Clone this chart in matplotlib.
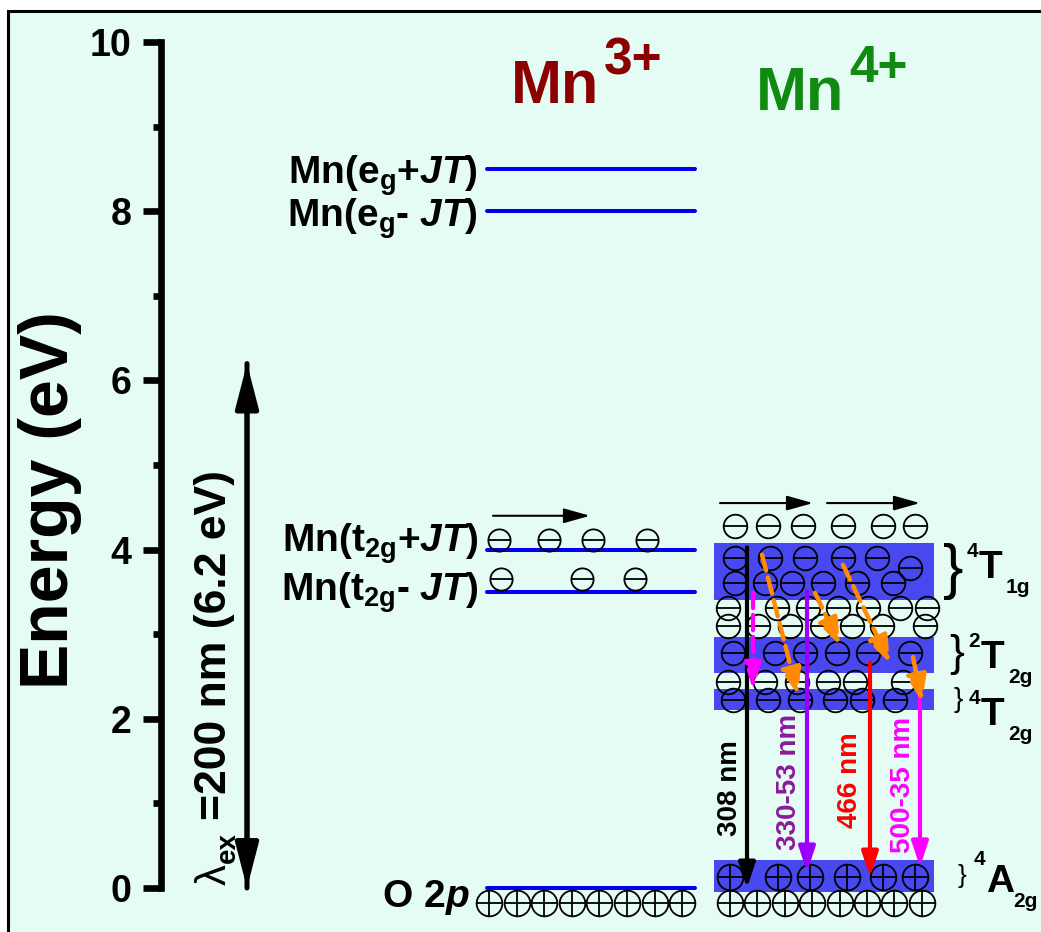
import matplotlib
matplotlib.use("Agg")
import matplotlib.pyplot as plt
from matplotlib.patches import Rectangle, FancyArrowPatch

plt.rcParams['font.family'] = ['Liberation Sans', 'DejaVu Sans']
plt.rcParams['font.weight'] = 'bold'
plt.rcParams['mathtext.fontset'] = 'custom'
plt.rcParams['mathtext.rm'] = 'Liberation Sans:bold'
plt.rcParams['mathtext.it'] = 'Liberation Sans:bold:italic'
plt.rcParams['mathtext.bf'] = 'Liberation Sans:bold'

HC = 1239.84  # eV * nm

# Mn3+ levels (eV)
mn3_energy = [8.5, 8.0, 4.0, 3.5]
mn3_names = [r'$\mathrm{Mn(e_g{+}}\mathit{JT}\mathrm{)}$',
             r'$\mathrm{Mn(e_g}\text{- }\mathit{JT}\mathrm{)}$',
             r'$\mathrm{Mn(t_{2g}{+}}\mathit{JT}\mathrm{)}$',
             r'$\mathrm{Mn(t_{2g}}\text{- }\mathit{JT}\mathrm{)}$']
o2p_energy = 0.0

# Mn4+ bands (eV)
band_lo = [3.40, 2.54, 2.10, -0.05]
band_hi = [4.08, 2.97, 2.35, 0.33]
band_sup = ['4', '2', '4', '4']
band_term = ['T', 'T', 'T', 'A']
band_sub = ['1g', '2g', '2g', '2g']

# emission transitions to 4A2g
emis_nm = [308, 353, 466, 535]
emis_text = ['308 nm', '330-53 nm', '466 nm', '500-35 nm']
emis_end = [0.0, 0.19, 0.13, 0.25]
emis_color = ['black', '#9b00ff', '#ff0000', '#ff00ff']
emis_tcolor = ['black', '#8b1a9b', '#ff0000', '#ff00ff']

ex_nm = 200

# electron / hole rows: (energy, x positions)
mn3_minus = [(4.11, [499, 549, 593, 647]),
             (3.65, [501, 582, 635])]
o2p_plus = (-0.18, [489 + 27.6 * i for i in range(8)])
mn4_minus = [(4.28, [735, 768, 803, 843, 883, 915]),
             (3.90, [735, 770, 805, 843, 877]),
             (3.78, [910]),
             (3.61, [735, 765, 792, 823, 857, 893]),
             (3.31, [728, 777, 808, 838, 868, 900, 927]),
             (3.10, [728, 758, 790, 822, 852, 882, 925]),
             (2.78, [733, 775, 805, 837, 868, 910]),
             (2.43, [728, 765, 797, 828, 855, 903]),
             (2.22, [733, 768, 800, 835, 862, 895])]
mn4_plus = [(0.13, [730, 778, 810, 847, 883, 915]),
            (-0.18, [730 + 27.4 * i for i in range(8)])]

# non-radiative relaxation (dashed)
relax_start = [(762, 3.94), (815, 3.49), (843, 3.82), (913, 2.73)]
relax_end = [(798, 2.28), (840, 2.87), (890, 2.66), (922, 2.20)]

PX = 84.6  # pixels per eV

fig = plt.figure(figsize=(10.41, 9.32), dpi=100)
fig.add_artist(Rectangle((8 / 1041, -0.1), 1.2, (932 - 11) / 932 + 0.1,
                         transform=fig.transFigure, facecolor='#e5fcf5',
                         edgecolor='black', lw=2.2, zorder=-5))
ax = fig.add_axes([0, 0, 1, 1])
ax.patch.set_visible(False)
ax.set_xlim(0, 1041)
ax.set_ylim(-44 / PX, 10 + 42 / PX)

for s in ['top', 'right', 'bottom']:
    ax.spines[s].set_visible(False)
ax.spines['left'].set_position(('data', 161))
ax.spines['left'].set_bounds(0, 10)
ax.spines['left'].set_linewidth(4.8)
ax.set_xticks([])
ax.set_yticks(range(0, 11, 2))
ax.set_yticks([1, 3, 5, 7, 9], minor=True)
ax.tick_params(axis='y', which='major', length=13, width=4.8, labelsize=27, pad=8)
ax.tick_params(axis='y', which='minor', length=6, width=4.8)
ax.text(50, 4.59, 'Energy (eV)', rotation=90, ha='center', va='center', fontsize=49)


def arrow(p0, p1, color, lw, hl, hw, ls='-', z=6):
    ax.add_patch(FancyArrowPatch(p0, p1, arrowstyle=f'-|>,head_length={hl},head_width={hw}',
                                 mutation_scale=1, color=color, lw=lw, ls=ls,
                                 shrinkA=0, shrinkB=0, zorder=z))


def charges(xs, e, sign, ms=17):
    ys = [e] * len(xs)
    ax.plot(xs, ys, ls='none', marker='o', ms=ms, mfc='none', mec='black', mew=1.3, zorder=4)
    ax.plot(xs, ys, ls='none', marker='_' if sign < 0 else '+', ms=ms, mec='black',
            mew=1.3, zorder=4)


# excitation arrow and its label (written bottom to top)
arrow((247, 0.0), (247, HC / ex_nm), 'black', 3.6, 27, 7)
arrow((247, HC / ex_nm), (247, 0.0), 'black', 3.6, 27, 7)
rot = dict(rotation=90, rotation_mode='anchor', ha='left', va='baseline')
ax.text(226, 0.03, '\u03bb', fontsize=30, fontweight='normal', **rot)
ax.text(235, 0.30, 'ex', fontsize=20, **rot)
ax.text(226, 0.80, '=200 nm (6.2 eV)', fontsize=32, **rot)

# Mn3+ column
ax.text(511, 9.28, 'Mn', color='#8b0000', fontsize=44)
ax.text(604, 9.61, '3+', color='#8b0000', fontsize=37)
label_base = [8.33, 7.82, 3.98, 3.40]
for e, name, yb in zip(mn3_energy, mn3_names, label_base):
    ax.plot([487, 695], [e, e], color='#0000ee', lw=2.9, solid_capstyle='round', zorder=3)
    ax.text(478, yb, name, ha='right', va='baseline', fontsize=28)
ax.plot([487, 695], [o2p_energy, o2p_energy], color='#0000ee', lw=2.9,
        solid_capstyle='round', zorder=3)
ax.text(470, -0.22, r'$\mathrm{O\ 2}\mathit{p}$', ha='right', va='baseline', fontsize=28)
for e, xs in mn3_minus:
    charges(xs, e, -1, ms=16)
charges(o2p_plus[1], o2p_plus[0], 1, ms=18.5)
arrow((493, 4.40), (590, 4.40), 'black', 1.5, 16, 4.5)

# Mn4+ column
ax.text(756, 9.20, 'Mn', color='#108a10', fontsize=44)
ax.text(849, 9.53, '4+', color='#108a10', fontsize=37)
for lo, hi in zip(band_lo, band_hi):
    ax.add_patch(Rectangle((714, lo), 220, hi - lo, facecolor='#4848f0', edgecolor='none',
                           zorder=2))
for e, xs in mn4_minus:
    charges(xs, e, -1)
for e, xs in mn4_plus:
    charges(xs, e, 1, ms=18.5)
arrow((720, 4.55), (813, 4.55), 'black', 1.5, 16, 4.5)
arrow((827, 4.55), (920, 4.55), 'black', 1.5, 16, 4.5)

# band labels
brace_x = [953, 957, 958, 962]
brace_size = [44, 32, 20, 19]
term_base = [3.66, 2.60, 1.93, -0.05]
term_x = [979, 981, 981, 986]
for i in range(4):
    mid = (band_lo[i] + band_hi[i]) / 2
    ax.text(brace_x[i], mid, '}', ha='center', va='center', fontsize=brace_size[i],
            fontweight='normal')
    yb = term_base[i]
    ax.text(term_x[i], yb, band_term[i], va='baseline', fontsize=28)
    ax.text(term_x[i] - 1, yb + (27 if i == 3 else 21) / PX, band_sup[i],
            ha='right', va='baseline', fontsize=15)
    ax.text(term_x[i] + 27, yb - 15 / PX, band_sub[i], va='baseline', fontsize=15)

# radiative transitions
emis_x = [747, 807, 870, 920]
text_x = [730, 789, 850, 903]
text_y = [1.18, 1.25, 1.28, 1.22]
for nm, txt, end, c, tc, x, tx, ty in zip(emis_nm, emis_text, emis_end, emis_color,
                                          emis_tcolor, emis_x, text_x, text_y):
    arrow((x, HC / nm), (x, end), c, 3.0, 15, 5)
    ax.text(tx, ty, txt, color=tc, rotation=90, ha='center', va='center', fontsize=20)

# relaxation
arrow((753, 3.49), (753, 2.34), '#ff00ff', 3.0, 16, 5, ls='--')
for p0, p1 in zip(relax_start, relax_end):
    arrow(p0, p1, '#ff8c00', 3.2, 16, 6, ls='--')

fig.savefig('out.png', dpi=100)
